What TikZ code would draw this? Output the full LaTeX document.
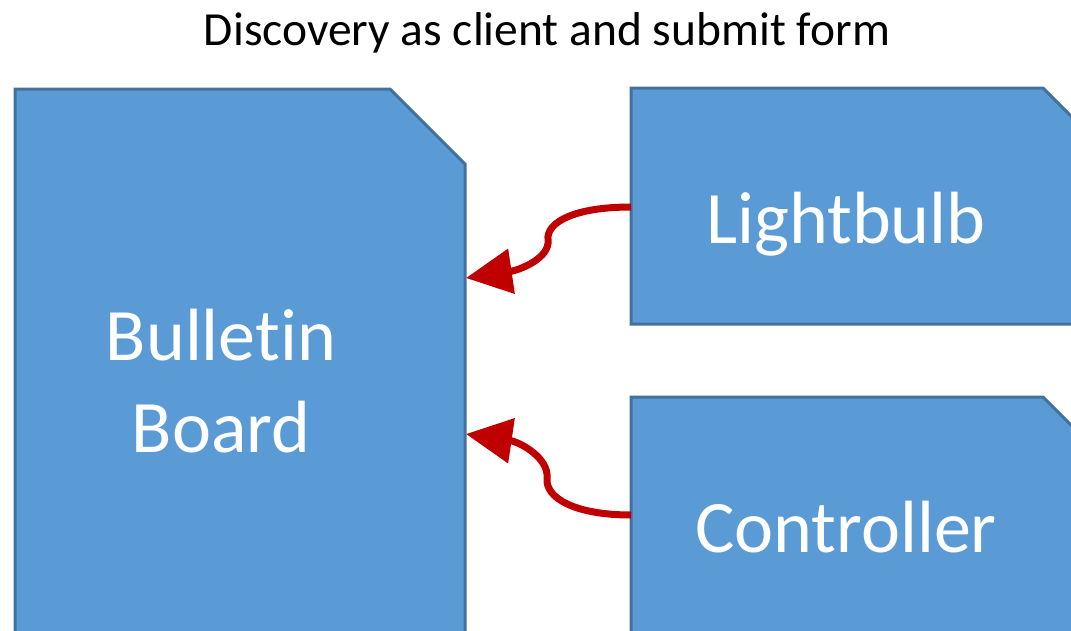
\documentclass[tikz,border=0pt]{standalone}
\usepackage{fontspec}
\setmainfont[Ligatures={NoCommon}]{Carlito}
\usetikzlibrary{arrows.meta}
\definecolor{boxfill}{HTML}{5B9BD5}
\definecolor{boxline}{HTML}{41719C}
\definecolor{arrowred}{HTML}{C00000}
\tikzset{
  snipbox/.style={fill=boxfill, draw=boxline, line width=3pt, line join=miter},
  boxtext/.style={text=white, font=\fontsize{74}{92}\selectfont, align=center, inner sep=0pt},
  titletext/.style={font=\fontsize{47.5}{56}\selectfont, inner sep=0pt},
  link/.style={draw=arrowred, line width=7pt, -{Triangle[length=46pt,width=44pt]}}
}
\begin{document}
\begin{tikzpicture}[x=1pt,y=-1pt]
\useasboundingbox (0,0) rectangle (1071,630);
% shapes
\path[snipbox] (15,89) -- (390,89) -- (465,164) -- (465,660) -- (15,660) -- cycle;
\path[snipbox] (631,88) -- (1043,88) -- (1118,163) -- (1118,324) -- (631,324) -- cycle;
\path[snipbox] (631,397) -- (1043,397) -- (1118,472) -- (1118,660) -- (631,660) -- cycle;
% texts
\node[titletext, anchor=base] (title) at (547,45) {Discovery as client and submit form};
\node[boxtext, anchor=base] (bb1) at (221,360) {Bulletin};
\node[boxtext, anchor=base] (bb2) at (221,452) {Board};
\node[boxtext, anchor=base] (light) at (846,243) {Lightbulb};
\node[boxtext, anchor=base] (ctrl) at (846,552) {Controller};
% connector end points
\coordinate (lightW) at (631,207);
\coordinate (ctrlW) at (631,515);
\coordinate (bbE1) at (466,278);
\coordinate (bbE2) at (466,434);
% connectors
\draw[link] (lightW) .. controls (575,207) and (546,222) .. (548,240)
  .. controls (550,258) and (520,270) .. (bbE1);
\draw[link] (ctrlW) .. controls (575,515) and (545,498) .. (547,478)
  .. controls (549,458) and (520,442) .. (bbE2);
\end{tikzpicture}
\end{document}
